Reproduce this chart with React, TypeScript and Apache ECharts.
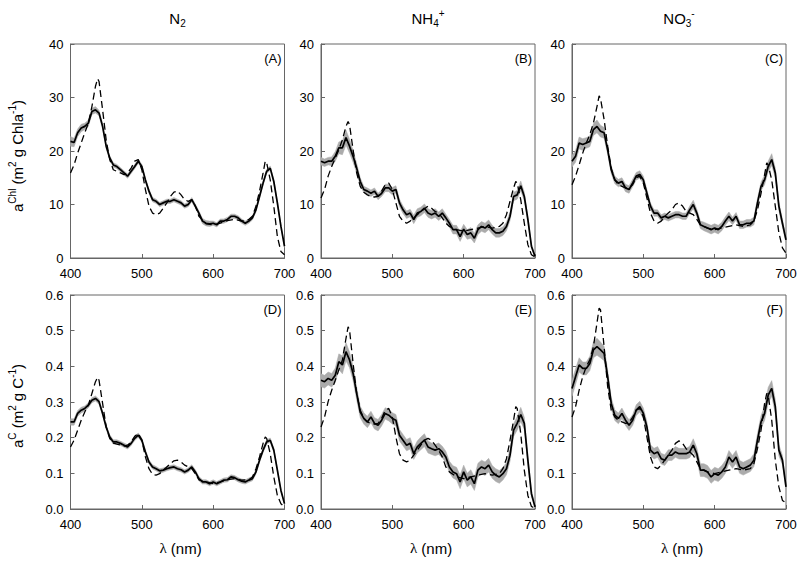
import React, { useEffect, useRef } from "react";
import * as echarts from "echarts";

// Wavelengths (nm) of the measured spectra
const WL = [400,405,410,415,420,425,430,435,440,445,450,455,460,465,470,475,480,485,490,495,500,505,510,515,520,525,530,535,540,545,550,555,560,565,570,575,580,585,590,595,600,605,610,615,620,625,630,635,640,645,650,655,660,665,670,675,680,685,690,695,700];
// Wavelengths (nm) of the modelled spectra
const MODEL_WL = [400,405,410,415,420,425,430,435,438,440,445,450,455,460,465,470,475,480,485,490,495,500,505,510,515,520,525,530,535,540,545,550,555,560,565,570,575,580,590,600,610,620,630,640,650,655,660,665,670,673,675,680,685,690,695,700];

// Measured means
const measA = [21.8,21.6,23.4,24.3,24.6, 25.2,27.4,27.7,27.1,24.6, 20.9,18.7,17.4,17.1,16.5, 15.9,15.3,16.2,17.1,18.1, 17.1,14.6,12.5,10.9,10.6, 10.0,10.3,10.6,10.6,10.9, 10.6,10.3,9.7,10.0,10.9, 9.7,8.4,6.9,6.5,6.4, 6.5,6.2,6.9,6.9,7.2, 7.8,7.8,7.5,6.9,6.5, 6.9,7.5,9.0,11.5,14.0, 16.2,16.8,14.3,10.3,5.9, 2.2];
const measB = [18.1,17.8,18.1,18.1,19.0, 20.6,20.6,22.5,20.9,19.0, 16.8,14.3,12.8,12.5,12.1, 12.5,11.5,12.1,13.1,13.1, 12.5,12.8,10.3,9.0,8.1, 8.4,7.2,8.4,8.7,9.3, 8.4,8.1,8.4,7.8,8.4, 7.5,6.5,5.3,5.3,4.0, 5.4,4.4,4.7,3.7,5.3, 5.9,5.6,6.2,5.3,4.7, 4.7,5.0,5.9,7.8,11.5, 11.8,13.5,11.5,7.2,2.2, 0.3];
const measC = [18.1,19.0,21.5,21.2,21.5, 21.8,24.0,24.6,23.7,23.4, 20.2,16.5,14.6,14.0,14.3, 13.1,12.8,14.0,15.3,15.6, 14.6,12.1,9.7,8.4,8.4, 7.5,7.8,7.5,7.8,8.1, 8.1,7.8,7.8,9.0,10.0, 8.4,6.2,5.9,5.6,5.3, 5.6,5.3,5.9,6.9,7.8, 6.9,7.8,6.2,6.2,6.5, 6.5,6.9,10.3,13.4,14.6, 17.1,18.4,15.9,9.7,6.5, 3.4];
const measD = [0.244,0.244,0.268,0.277,0.282, 0.291,0.305,0.310,0.301,0.268, 0.230,0.202,0.188,0.188,0.184, 0.179,0.174,0.184,0.198,0.207, 0.193,0.160,0.132,0.118,0.113, 0.107,0.109,0.113,0.116,0.118, 0.113,0.110,0.104,0.109,0.118, 0.104,0.085,0.076,0.076,0.071, 0.076,0.071,0.076,0.081,0.082, 0.090,0.088,0.082,0.078,0.076, 0.081,0.085,0.104,0.137,0.165, 0.188,0.193,0.165,0.109,0.052, 0.015];
const measE = [0.361,0.357,0.366,0.361,0.375, 0.413,0.404,0.441,0.418,0.380, 0.324,0.272,0.254,0.244,0.258, 0.240,0.235,0.249,0.268,0.263, 0.254,0.249,0.207,0.193,0.179, 0.184,0.155,0.174,0.184,0.193, 0.174,0.169,0.165,0.169,0.160, 0.146,0.118,0.104,0.099,0.076, 0.104,0.081,0.090,0.071,0.109, 0.118,0.113,0.123,0.104,0.095, 0.090,0.099,0.113,0.151,0.221, 0.240,0.265,0.240,0.137,0.043, 0.006];
const measF = [0.338,0.371,0.404,0.394,0.394, 0.408,0.446,0.455,0.446,0.436, 0.371,0.296,0.263,0.254,0.268, 0.249,0.235,0.249,0.277,0.287, 0.268,0.230,0.165,0.155,0.160, 0.141,0.137,0.151,0.151,0.160, 0.155,0.155,0.155,0.160,0.179, 0.155,0.109,0.109,0.104,0.090, 0.099,0.095,0.104,0.118,0.146, 0.132,0.146,0.118,0.113,0.118, 0.123,0.137,0.193,0.244,0.268, 0.319,0.338,0.287,0.165,0.137, 0.062];

// Measured standard deviations (grey band)
const errA = [0.9,0.8,0.7,0.7,0.6, 0.6,0.6,0.6,0.5,0.5, 0.4,0.4,0.4,0.4,0.4, 0.4,0.4,0.4,0.4,0.4, 0.4,0.4,0.4,0.4,0.4, 0.4,0.4,0.4,0.4,0.4, 0.4,0.4,0.4,0.4,0.4, 0.4,0.4,0.5,0.5,0.5, 0.4,0.4,0.4,0.4,0.4, 0.4,0.4,0.4,0.4,0.4, 0.4,0.4,0.4,0.4,0.4, 0.4,0.4,0.4,0.4,0.3, 0.2];
const errB = [0.7,0.7,0.7,0.8,0.9, 1.1,1.3,1.4,1.3,1.1, 0.9,0.7,0.6,0.6,0.6, 0.6,0.6,0.6,0.7,0.7, 0.7,0.7,0.7,0.7,0.7, 0.7,0.8,0.8,0.8,0.8, 0.8,0.8,0.8,0.8,0.8, 0.7,0.7,0.8,0.8,0.9, 0.9,0.9,1.0,0.9,0.9, 0.9,0.9,0.9,0.8,0.8, 0.8,0.8,0.8,0.8,0.8, 0.8,0.9,0.8,0.6,0.4, 0.2];
const errC = [1.1,1.1,1.1,1.1,1.0, 1.0,1.1,1.2,1.1,1.0, 0.8,0.7,0.7,0.7,0.7, 0.7,0.7,0.7,0.7,0.7, 0.7,0.7,0.6,0.6,0.6, 0.6,0.6,0.6,0.6,0.6, 0.6,0.6,0.6,0.7,0.8, 0.7,0.7,0.8,0.8,0.8, 0.8,0.8,0.8,0.8,0.8, 0.7,0.7,0.7,0.7,0.7, 0.7,0.7,0.8,0.8,0.9, 1.0,1.1,0.9,0.8,0.7, 0.6];
const errD = [0.009,0.009,0.008,0.008,0.007, 0.007,0.007,0.007,0.007,0.006, 0.006,0.006,0.006,0.006,0.006, 0.006,0.006,0.006,0.006,0.006, 0.006,0.006,0.006,0.006,0.006, 0.006,0.006,0.006,0.006,0.006, 0.006,0.006,0.006,0.006,0.006, 0.006,0.006,0.006,0.006,0.006, 0.006,0.006,0.006,0.006,0.006, 0.006,0.006,0.006,0.006,0.006, 0.006,0.006,0.006,0.006,0.006, 0.006,0.006,0.006,0.005,0.004, 0.003];
const errE = [0.018,0.018,0.018,0.019,0.020, 0.022,0.025,0.026,0.022,0.020, 0.018,0.016,0.016,0.016,0.016, 0.016,0.016,0.016,0.016,0.016, 0.016,0.016,0.016,0.016,0.016, 0.016,0.016,0.017,0.018,0.018, 0.017,0.016,0.016,0.016,0.016, 0.016,0.016,0.017,0.018,0.019, 0.019,0.019,0.020,0.019,0.019, 0.019,0.019,0.019,0.018,0.018, 0.018,0.018,0.017,0.017,0.018, 0.019,0.020,0.017,0.014,0.009, 0.004];
const errF = [0.022,0.022,0.020,0.018,0.018, 0.020,0.022,0.024,0.022,0.020, 0.018,0.016,0.015,0.015,0.015, 0.015,0.015,0.015,0.015,0.015, 0.015,0.015,0.015,0.015,0.015, 0.015,0.015,0.015,0.015,0.015, 0.015,0.015,0.015,0.016,0.018, 0.016,0.018,0.018,0.018,0.018, 0.018,0.018,0.018,0.018,0.018, 0.018,0.018,0.018,0.018,0.018, 0.018,0.018,0.018,0.018,0.020, 0.022,0.022,0.020,0.016,0.013, 0.009];

// Modelled spectra (dashed)
const modelA = [15.9,17.4,19.6,21.5,23.4,25.2,28.3,32.1,33.5,33.0,27.7,22.1,18.4,16.5,16.2,15.9,15.6,15.9,16.8,18.1,18.4,16.5,12.8,9.7,8.4,8.1,8.4,9.3,10.3,11.5,12.3,12.5,11.8,10.9,10.6,10.9,9.7,7.8,6.4,6.2,6.5,7.0,7.2,6.9,7.2,7.8,9.7,12.5,15.9,18.1,17.8,14.6,9.7,4.0,1.2,0.6];
const modelB = [11.2,12.8,15.3,17.1,18.7,20.2,22.1,24.6,25.5,24.9,20.2,15.9,13.4,12.3,11.8,11.5,11.4,11.5,12.5,13.7,14.0,12.8,10.3,7.8,6.9,6.5,6.9,7.5,8.1,8.7,9.2,9.7,9.3,8.7,8.4,7.5,6.5,5.9,5.3,5.0,5.3,5.6,5.9,5.6,5.9,6.5,8.1,10.6,13.1,14.3,14.0,10.9,6.5,2.5,0.6,0.2];
const modelC = [13.7,15.3,17.4,19.6,21.5,23.1,25.2,28.3,30.3,29.8,25.9,20.9,16.8,14.6,13.7,13.4,13.1,13.1,13.7,15.0,15.3,14.0,11.2,8.4,6.9,6.5,6.9,7.8,8.4,9.0,10.0,10.3,9.7,8.7,8.4,8.1,7.2,6.2,5.6,5.3,5.6,5.9,6.2,5.9,6.2,6.9,9.0,12.1,15.6,17.8,17.4,14.6,9.7,4.7,1.9,0.9];
const modelD = [0.174,0.193,0.221,0.249,0.272,0.291,0.324,0.357,0.369,0.361,0.296,0.230,0.198,0.185,0.182,0.179,0.176,0.179,0.188,0.204,0.212,0.193,0.146,0.113,0.097,0.095,0.099,0.109,0.118,0.127,0.135,0.137,0.132,0.123,0.118,0.113,0.099,0.082,0.076,0.071,0.076,0.082,0.085,0.081,0.082,0.090,0.113,0.146,0.184,0.202,0.198,0.155,0.090,0.038,0.015,0.006];
const modelE = [0.230,0.258,0.301,0.333,0.361,0.390,0.418,0.478,0.511,0.502,0.408,0.324,0.277,0.254,0.244,0.240,0.238,0.240,0.254,0.277,0.282,0.258,0.202,0.155,0.137,0.132,0.137,0.151,0.165,0.179,0.193,0.198,0.193,0.179,0.165,0.146,0.118,0.104,0.090,0.085,0.090,0.095,0.099,0.095,0.099,0.113,0.141,0.193,0.249,0.287,0.282,0.212,0.109,0.038,0.007,0.002];
const modelF = [0.258,0.287,0.333,0.371,0.399,0.418,0.455,0.521,0.563,0.558,0.455,0.343,0.277,0.258,0.249,0.244,0.240,0.242,0.257,0.277,0.282,0.258,0.202,0.146,0.118,0.113,0.123,0.137,0.151,0.165,0.184,0.191,0.184,0.169,0.160,0.151,0.132,0.113,0.104,0.099,0.104,0.109,0.113,0.109,0.113,0.127,0.169,0.221,0.296,0.324,0.319,0.249,0.137,0.062,0.024,0.017];

const COLUMN_TITLES = ["{n|N}{sub|2}", "{n|NH}{sub|4}{sup|+}", "{n|NO}{sub|3}{sup|-}"];
const PANEL_LABELS = ["(A)", "(B)", "(C)", "(D)", "(E)", "(F)"];
const Y_TITLES = ["{n|a}{s|Chl}{n| (m}{s|2}{n| g Chla}{s|-1}{n|)}", "{n|a}{s|C}{n| (m}{s|2}{n| g C}{s|-1}{n|)}"];
const X_TITLE = "{l|λ}{n| (nm)}";

const PANELS = [
  { meas: measA, err: errA, model: modelA },
  { meas: measB, err: errB, model: modelB },
  { meas: measC, err: errC, model: modelC },
  { meas: measD, err: errD, model: modelD },
  { meas: measE, err: errE, model: modelE },
  { meas: measF, err: errF, model: modelF },
];

const LEFTS = [70.5, 321, 572];
const TOPS = [44, 295];
const PW = 214;
const PH = 214;
const FONT = "Liberation Sans, Arial, sans-serif";
const FRAME = "#666";
const BAND = "#ababab";

export default function App() {
  const ref = useRef<HTMLDivElement>(null);
  useEffect(() => {
    if (!ref.current) return;
    const chart = echarts.init(ref.current, null, { renderer: "svg" });
    const grids: any[] = [];
    const xAxes: any[] = [];
    const yAxes: any[] = [];
    const series: any[] = [];
    const graphics: any[] = [];

    PANELS.forEach((p, i) => {
      const col = i % 3;
      const row = Math.floor(i / 3);
      grids.push({
        left: LEFTS[col], top: TOPS[row], width: PW, height: PH,
        show: true, borderColor: FRAME, borderWidth: 1, backgroundColor: "transparent",
      });
      xAxes.push({
        type: "value", gridIndex: i, min: 400, max: 700, interval: 100,
        axisLine: { show: true, onZero: false, lineStyle: { color: FRAME } },
        axisTick: { show: true, inside: true, length: 4, lineStyle: { color: FRAME } },
        axisLabel: { color: "#000", fontSize: 13, fontFamily: FONT, margin: 9 },
        splitLine: { show: false },
      });
      yAxes.push({
        type: "value", gridIndex: i, min: 0,
        max: row === 0 ? 40 : 0.6, interval: row === 0 ? 10 : 0.1,
        axisLine: { show: true, onZero: false, lineStyle: { color: FRAME } },
        axisTick: { show: true, inside: true, length: 4, lineStyle: { color: FRAME } },
        axisLabel: {
          color: "#000", fontSize: 13, fontFamily: FONT, margin: 7,
          formatter: row === 0 ? (v: number) => String(v) : (v: number) => v.toFixed(1),
        },
        splitLine: { show: false },
      });

      const bandRows = WL.map((w, k) => [w, p.meas[k] - p.err[k], p.meas[k] + p.err[k]]);
      series.push({
        type: "custom", xAxisIndex: i, yAxisIndex: i, z: 1,
        data: bandRows,
        encode: { x: 0, y: [1, 2] },
        renderItem: (params: any, api: any) => {
          if (params.dataIndex !== 0) return null;
          const upper = bandRows.map((r) => api.coord([r[0], r[2]]));
          const lower = bandRows.map((r) => api.coord([r[0], r[1]])).reverse();
          return {
            type: "polygon",
            shape: { points: upper.concat(lower) },
            style: { fill: BAND, stroke: BAND, lineWidth: 0.5 },
          };
        },
      });
      series.push({
        type: "line", xAxisIndex: i, yAxisIndex: i, z: 2,
        data: MODEL_WL.map((w, k) => [w, p.model[k]]),
        showSymbol: false, symbol: "none",
        lineStyle: { color: "#000", width: 1.3, type: [7, 4] },
      });
      series.push({
        type: "line", xAxisIndex: i, yAxisIndex: i, z: 3,
        data: WL.map((w, k) => [w, p.meas[k]]),
        showSymbol: false, symbol: "none",
        lineStyle: { color: "#000", width: 1.7 },
      });

      graphics.push({
        type: "text", x: LEFTS[col] + PW - 3, y: TOPS[row] + 14,
        style: {
          text: PANEL_LABELS[i], fill: "#000", fontSize: 13, fontFamily: FONT,
          align: "right", verticalAlign: "middle", textAlign: "right", textVerticalAlign: "middle",
        },
      });
    });

    COLUMN_TITLES.forEach((t, c) => {
      graphics.push({
        type: "text", x: LEFTS[c] + PW / 2, y: 18,
        style: {
          text: t, fill: "#000",
          align: "center", verticalAlign: "middle", textAlign: "center", textVerticalAlign: "middle",
          rich: {
            n: { fontSize: 15, lineHeight: 20, fontFamily: FONT, fill: "#000" },
            sub: { fontSize: 10, lineHeight: 10, fontFamily: FONT, verticalAlign: "bottom", fill: "#000" },
            sup: { fontSize: 10, lineHeight: 10, fontFamily: FONT, verticalAlign: "top", fill: "#000" },
          },
        },
      });
      graphics.push({
        type: "text", x: LEFTS[c] + PW / 2 + 3, y: 548,
        style: {
          text: X_TITLE, fill: "#000",
          align: "center", verticalAlign: "middle", textAlign: "center", textVerticalAlign: "middle",
          rich: {
            l: { fontSize: 15, lineHeight: 20, fontFamily: "Liberation Serif, serif", fill: "#000" },
            n: { fontSize: 15, lineHeight: 20, fontFamily: FONT, fill: "#000" },
          },
        },
      });
    });

    Y_TITLES.forEach((t, r) => {
      graphics.push({
        type: "text", x: 17, y: r === 0 ? 156 : 406, rotation: Math.PI / 2,
        style: {
          text: t, fill: "#000",
          align: "center", verticalAlign: "middle", textAlign: "center", textVerticalAlign: "middle",
          rich: {
            n: { fontSize: 15, lineHeight: 20, fontFamily: FONT, fill: "#000" },
            s: { fontSize: 10, lineHeight: 10, fontFamily: FONT, verticalAlign: "top", fill: "#000" },
          },
        },
      });
    });

    chart.setOption({
      animation: false,
      backgroundColor: "#fff",
      grid: grids,
      xAxis: xAxes,
      yAxis: yAxes,
      series,
      graphic: graphics,
    });
    return () => chart.dispose();
  }, []);
  return <div ref={ref} style={{ position: "fixed", left: 0, top: 0, width: 800, height: 567 }} />;
}
